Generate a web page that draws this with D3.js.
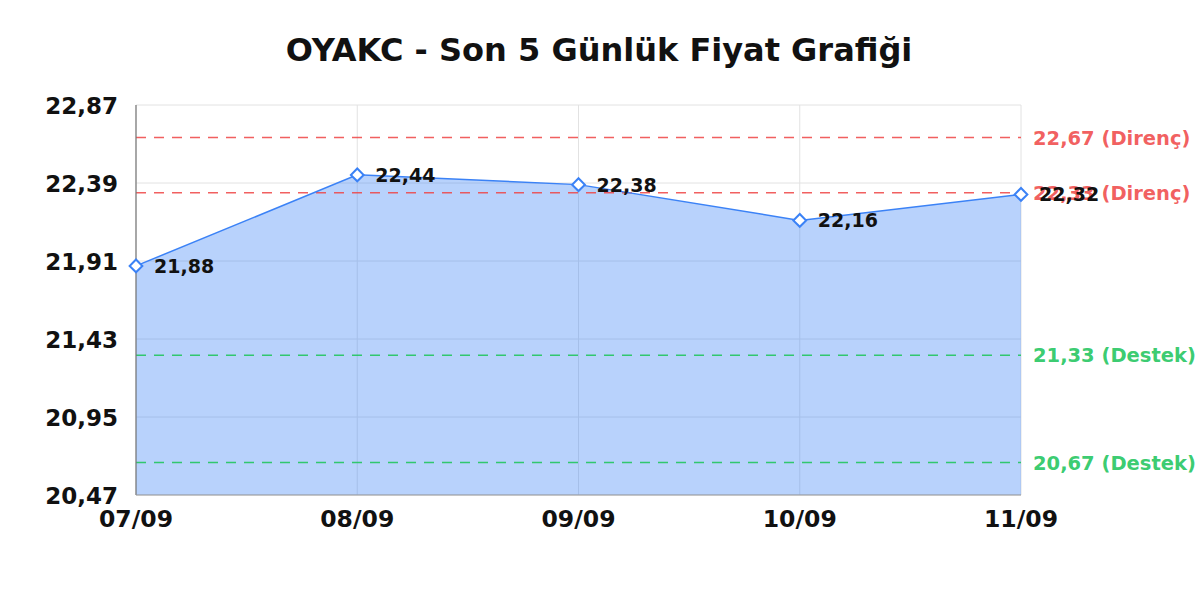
<!DOCTYPE html>
<html>
<head>
<meta charset="utf-8">
<script src="https://cdn.jsdelivr.net/npm/d3@7"></script>
<style>
  body { margin: 0; background: #fff; }
  text { font-family: 'DejaVu Sans', sans-serif; font-weight: bold; }
</style>
</head>
<body>
<div id="chart"></div>
<script>
// Datos
const dates = ['07/09', '08/09', '09/09', '10/09', '11/09'];
const prices = [21.88, 22.44, 22.38, 22.16, 22.32];
const yTicks = [20.47, 20.95, 21.43, 21.91, 22.39, 22.87];
const resistance = [22.67, 22.33];
const support = [21.33, 20.67];

const width = 1200, height = 600;
const margin = { top: 105, right: 179, bottom: 105, left: 136 };
const fmt = v => v.toFixed(2).replace('.', ',');

const svg = d3.select('#chart').append('svg')
    .attr('width', width)
    .attr('height', height);

const x = d3.scalePoint().domain(dates).range([margin.left, width - margin.right]);
const y = d3.scaleLinear().domain([20.47, 22.87]).range([height - margin.bottom, margin.top]);

// Título
svg.append('text')
    .attr('x', 599).attr('y', 61)
    .attr('text-anchor', 'middle')
    .attr('font-size', '32px')
    .attr('fill', '#111')
    .text('OYAKC - Son 5 Günlük Fiyat Grafiği');

// Rejilla
const grid = svg.append('g');
grid.selectAll('line.h').data(yTicks).join('line')
    .attr('x1', margin.left).attr('x2', width - margin.right)
    .attr('y1', d => y(d)).attr('y2', d => y(d))
    .attr('stroke', '#e2e2e2').attr('stroke-width', 1);
grid.selectAll('line.v').data(dates).join('line')
    .attr('x1', d => x(d)).attr('x2', d => x(d))
    .attr('y1', margin.top).attr('y2', height - margin.bottom)
    .attr('stroke', '#e2e2e2').attr('stroke-width', 1);

// Área
const area = d3.area().x((d, i) => x(dates[i])).y0(y(20.47)).y1(d => y(d));
svg.append('path')
    .datum(prices)
    .attr('d', area)
    .attr('fill', 'rgba(59,130,246,0.36)');

// Líneas de soporte y resistencia
const levels = resistance.map(v => ({ v, label: 'Direnç', color: 'rgba(239,68,68,0.85)' }))
    .concat(support.map(v => ({ v, label: 'Destek', color: 'rgba(34,197,94,0.9)' })));
svg.selectAll('line.level').data(levels).join('line')
    .attr('x1', margin.left).attr('x2', width - margin.right)
    .attr('y1', d => y(d.v)).attr('y2', d => y(d.v))
    .attr('stroke', d => d.color)
    .attr('stroke-width', 1.5)
    .attr('stroke-dasharray', '10,8');

// Ejes
svg.append('line')
    .attr('x1', margin.left).attr('x2', margin.left)
    .attr('y1', margin.top).attr('y2', height - margin.bottom)
    .attr('stroke', '#777').attr('stroke-width', 1.2);
svg.append('line')
    .attr('x1', margin.left).attr('x2', width - margin.right)
    .attr('y1', height - margin.bottom).attr('y2', height - margin.bottom)
    .attr('stroke', '#999').attr('stroke-width', 1);

svg.selectAll('text.ytick').data(yTicks).join('text')
    .attr('x', 118).attr('y', d => y(d) + 9)
    .attr('text-anchor', 'end')
    .attr('font-size', '23px')
    .attr('fill', '#111')
    .text(fmt);

svg.selectAll('text.xtick').data(dates).join('text')
    .attr('x', d => x(d)).attr('y', 527)
    .attr('text-anchor', 'middle')
    .attr('font-size', '23.5px')
    .attr('fill', '#111')
    .text(d => d);

// Línea de precio
const line = d3.line().x((d, i) => x(dates[i])).y(d => y(d));
svg.append('path')
    .datum(prices)
    .attr('d', line)
    .attr('fill', 'none')
    .attr('stroke', '#3b82f6')
    .attr('stroke-width', 1.5);

// Etiquetas de niveles
svg.selectAll('text.level').data(levels).join('text')
    .attr('x', 1033).attr('y', d => y(d.v) + 7)
    .attr('font-size', '19.5px')
    .attr('fill', d => d.color)
    .text(d => `${fmt(d.v)} (${d.label})`);

// Marcadores
svg.selectAll('rect.pt').data(prices).join('rect')
    .attr('x', -4.5).attr('y', -4.5)
    .attr('width', 9).attr('height', 9)
    .attr('transform', (d, i) => `translate(${x(dates[i])},${y(d)}) rotate(45)`)
    .attr('fill', '#fff')
    .attr('stroke', '#3b82f6')
    .attr('stroke-width', 2);

// Etiquetas de valores
svg.selectAll('text.val').data(prices).join('text')
    .attr('x', (d, i) => x(dates[i]) + 18)
    .attr('y', d => y(d) + 7)
    .attr('font-size', '19px')
    .attr('fill', '#111')
    .text(fmt);
</script>
</body>
</html>
